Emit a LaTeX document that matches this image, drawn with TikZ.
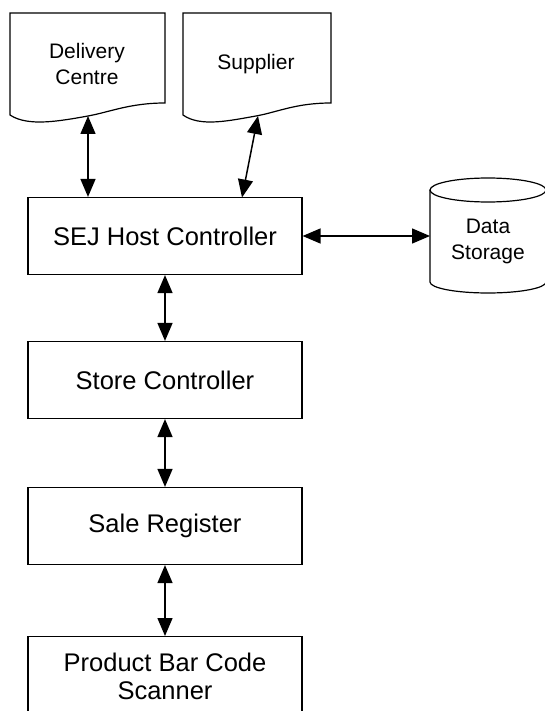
\documentclass[tikz,border=0pt]{standalone}
\usepackage{fontspec}
\setmainfont{Liberation Sans}
\usetikzlibrary{arrows.meta}
\begin{document}
\begin{tikzpicture}[x=1pt,y=-1pt,
  line width=1.4pt,
  box/.style={draw,line width=1.2pt,minimum width=274pt,minimum height=77pt,inner sep=0pt,font=\fontsize{25.5}{27.5}\selectfont,align=center},
  lbl/.style={font=\fontsize{21}{26}\selectfont,align=center},
  shape line/.style={draw,line width=1.2pt},
  conn/.style={{Triangle[length=18pt,width=15pt]}-{Triangle[length=18pt,width=15pt]},line width=1.5pt}]
\useasboundingbox (0,0) rectangle (544,711);
% documents
\path[shape line,fill=white] (10,13) -- (165,13) -- (165,103)
  .. controls (130,103) and (110,112) .. (88,116)
  .. controls (60,121) and (28,127) .. (10,115) -- cycle;
\coordinate (dcb) at (88,116);
\node[lbl] (dc) at (87,64) {Delivery\\Centre};
\path[shape line,fill=white] (183,13) -- (331,13) -- (331,103)
  .. controls (296,103) and (278,112) .. (256,116)
  .. controls (228,121) and (200,127) .. (183,115) -- cycle;
\coordinate (spb) at (258,116);
\node[lbl] (sp) at (256,64) {Supplier};
% cylinder
\path[shape line] (430,190) -- (430,282) arc[start angle=180,end angle=360,x radius=58pt,y radius=11pt] -- (546,190);
\draw[line width=1.2pt] (488,190) ellipse[x radius=58pt,y radius=12pt];
\coordinate (dsl) at (430,236);
\node[lbl] (ds) at (488,241) {Data\\Storage};
% boxes
\node[box] (sej) at (165,236) {SEJ Host Controller};
\node[box] (sc) at (165,380) {Store Controller};
\node[box] (sr) at (165,526) {Sale Register};
\node[box,anchor=north,minimum height=80pt] (pb) at (165,636) {Product Bar Code\\Scanner};
% connectors
\draw[conn] (dcb) -- (dcb|-sej.north);
\draw[conn] (spb) -- (242,197.5);
\draw[conn] (sej.east) -- (dsl);
\draw[conn] (sej.south) -- (sc.north);
\draw[conn] (sc.south) -- (sr.north);
\draw[conn] (sr.south) -- (pb.north);
\end{tikzpicture}
\end{document}
